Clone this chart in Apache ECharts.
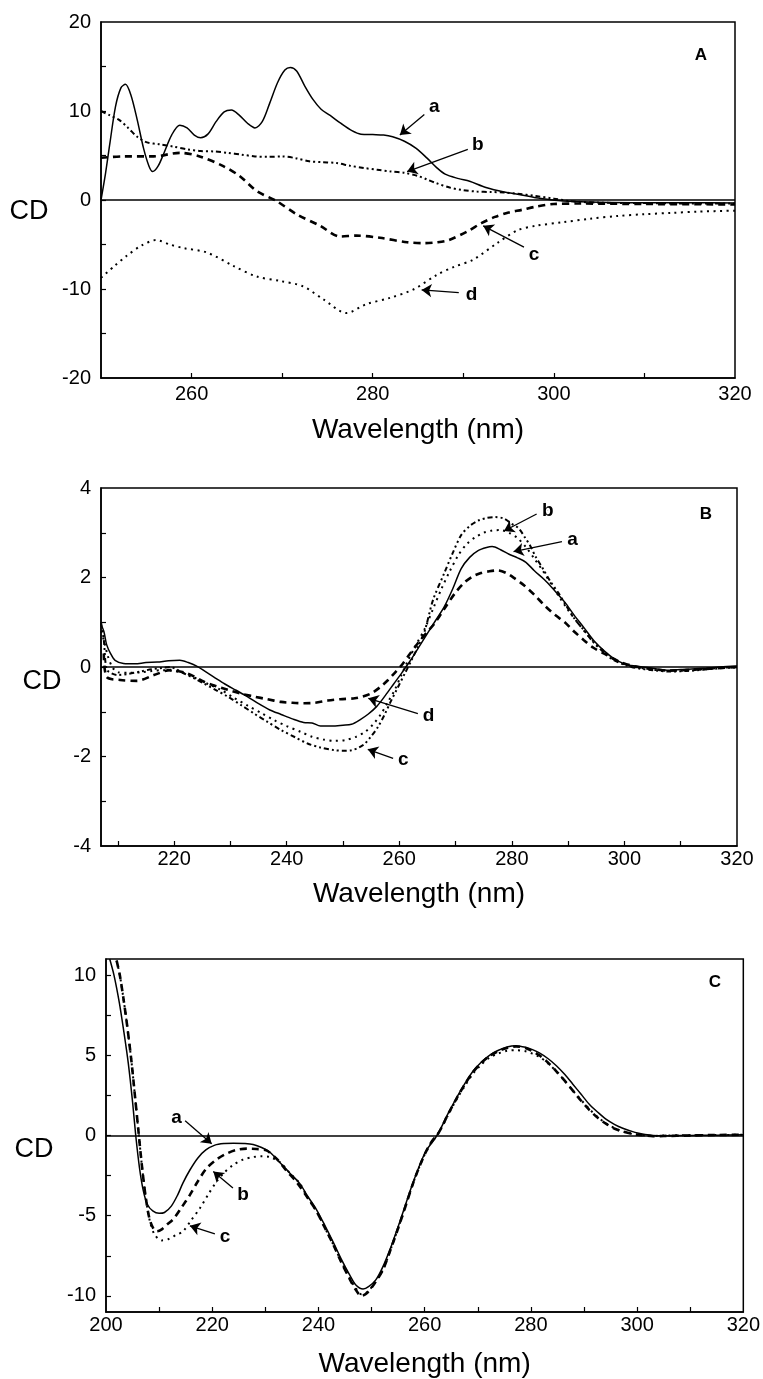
<!DOCTYPE html>
<html><head><meta charset="utf-8">
<script src="https://cdn.jsdelivr.net/npm/echarts@6/dist/echarts.min.js"></script>
<style>html,body{margin:0;padding:0;background:#fff}#c{width:763px;height:1379px}</style>
</head><body><div id="c"></div>
<script>
// ---------------- Panel A (250-320 nm) ----------------
const A_xTicks = [260,270,280,290,300,310];
const A_xLabels = [260,280,300,320];
const A_yTicks = [-15,-10,-5,0,5,10,15];
const A_yLabels = [-20,-10,0,10,20];
const A_a = [[250,0],[250.5,3],[251,6.5],[251.6,10.5],[252.2,12.6],[252.7,13.0],[253.3,11.8],[254,9],[254.7,5.8],[255.3,3.8],[255.7,3.2],[256.3,3.8],[257,5.4],[257.8,7.3],[258.7,8.4],[259.5,8.1],[260.3,7.3],[261,7.0],[261.8,7.4],[262.7,8.8],[263.6,9.9],[264.4,10.1],[265.2,9.6],[266.2,8.6],[267,8.1],[267.8,8.8],[268.6,10.8],[269.5,13.2],[270.3,14.6],[270.9,14.9],[271.6,14.5],[272.5,12.8],[273.4,11.3],[274.3,10.2],[275.3,9.5],[276.5,8.6],[277.7,7.8],[278.7,7.4],[280,7.35],[281.2,7.3],[282.2,7.1],[283.5,6.6],[284.8,5.8],[286,4.7],[287,3.7],[288,2.9],[289.5,2.4],[290.7,2.1],[292.5,1.4],[294.5,0.9],[296.3,0.6],[298,0.25],[299.5,0.05],[301,-0.1],[305,-0.25],[310,-0.3],[315,-0.3],[320,-0.35]];
const A_b = [[250,10.0],[251,9.5],[252,9.0],[253,8.1],[254,7.1],[255,6.5],[256.5,6.25],[258,6.0],[259.5,5.7],[261,5.5],[262.5,5.45],[264,5.3],[265.5,5.1],[267,4.9],[268.5,4.85],[270,4.9],[271.5,4.7],[273,4.35],[274.5,4.25],[276,4.15],[277.5,3.85],[279,3.6],[280.5,3.4],[282,3.2],[283.5,3.05],[285,2.7],[286,2.3],[287,1.9],[288.5,1.4],[290,1.1],[291.5,0.95],[293,0.9],[294.5,0.85],[296,0.7],[298,0.45],[300,0.15],[302,-0.15],[305,-0.3],[310,-0.35],[315,-0.4],[320,-0.4]];
const A_c = [[250,4.75],[252.5,4.9],[255.8,4.9],[258.7,5.3],[260.9,4.9],[263.5,3.8],[265.3,2.7],[267.2,1.0],[269.4,-0.13],[271.6,-1.6],[274.2,-2.9],[276.4,-4.1],[278.2,-4.0],[280.8,-4.25],[283.8,-4.75],[285.7,-4.85],[287.1,-4.75],[288.4,-4.5],[290.5,-3.5],[292,-2.6],[293.5,-1.9],[295,-1.4],[296.5,-1.1],[298,-0.75],[300,-0.45],[303,-0.4],[310,-0.45],[320,-0.5]];
const A_d = [[250,-8.75],[251.5,-7.4],[252.8,-6.3],[254.5,-5.1],[256.1,-4.5],[257.6,-5.0],[259.1,-5.4],[261.7,-5.9],[264.6,-7.4],[267.2,-8.6],[269.8,-9.1],[272.3,-9.7],[274.6,-11.2],[277.1,-12.7],[279.3,-11.7],[281.9,-11.0],[284.5,-10.05],[287.1,-8.4],[289,-7.5],[291.1,-6.7],[293.8,-4.8],[296,-3.4],[298,-2.9],[301,-2.5],[304,-2.1],[307,-1.8],[310,-1.6],[313,-1.45],[316,-1.3],[320,-1.2]];
const A_notes = [{name:'a', value:[286.8,10.5]},{name:'b', value:[291.6,6.2]},{name:'c', value:[297.8,-6.1]},{name:'d', value:[290.9,-10.6]}];
const A_arrows = [[[285.7,9.6],[283.0,7.3]],[[290.5,5.7],[283.8,3.2]],[[296.7,-5.3],[292.2,-2.9]],[[289.5,-10.4],[285.4,-10.1]]];

// ---------------- Panel B (207-320 nm) ----------------
const B_xTicks = [210,220,230,240,250,260,270,280,290,300,310];
const B_xLabels = [220,240,260,280,300,320];
const B_yTicks = [-3,-2,-1,0,1,2,3];
const B_yLabels = [-4,-2,0,2,4];
const B_a = [[207,0.95],[207.5,0.8],[208,0.5],[208.7,0.3],[209.5,0.15],[211,0.08],[213,0.07],[215,0.1],[217,0.11],[219,0.14],[221,0.15],[222.5,0.1],[224,0.02],[225.5,-0.1],[227,-0.22],[229,-0.38],[231,-0.52],[233,-0.66],[235,-0.82],[237,-0.96],[239,-1.06],[241,-1.16],[243,-1.24],[244.5,-1.25],[246,-1.32],[248,-1.32],[250,-1.3],[251.5,-1.28],[253,-1.18],[254.5,-1.05],[256,-0.88],[257.5,-0.64],[259,-0.38],[260.5,-0.12],[262,0.15],[263.5,0.45],[265,0.75],[266.5,1.05],[268,1.35],[269.5,1.75],[271,2.2],[272.5,2.45],[274,2.6],[275.5,2.67],[276.5,2.69],[278,2.62],[279.5,2.52],[281,2.44],[282.5,2.34],[284,2.15],[285.8,1.95],[287.5,1.72],[289.4,1.45],[291,1.17],[292.8,0.88],[294.5,0.6],[296.4,0.36],[298,0.2],[300,0.07],[302,0.02],[305,-0.03],[308,-0.07],[311,-0.05],[314,-0.03],[317,0.0],[320,0.02]];
const B_b = [[207,0.8],[207.5,0.6],[208.2,0.25],[209,0.0],[210,-0.12],[212,-0.13],[214,-0.12],[216,-0.09],[218,-0.07],[220,-0.09],[222,-0.15],[224,-0.26],[226,-0.38],[228.3,-0.51],[230.5,-0.68],[233,-0.86],[235.5,-1.03],[237.8,-1.19],[240,-1.32],[242.5,-1.45],[244.5,-1.56],[246.5,-1.62],[248.5,-1.65],[250.5,-1.63],[252.3,-1.56],[253.9,-1.45],[255.5,-1.26],[256.8,-1.04],[258,-0.78],[259.2,-0.51],[260.4,-0.17],[261.6,0.16],[263,0.5],[264.5,0.85],[266,1.3],[267.5,1.75],[269,2.15],[270.5,2.5],[272,2.75],[273.5,2.9],[275,3.0],[276.5,3.05],[278,3.06],[279.5,3.0],[281,2.88],[282.5,2.68],[284,2.42],[285.5,2.15],[287,1.85],[288.5,1.55],[290,1.27],[291.5,1.02],[293,0.78],[294.5,0.57],[296.4,0.35],[298,0.18],[300,0.06],[302,0.0],[305,-0.06],[308,-0.09],[311,-0.08],[314,-0.05],[317,-0.02],[320,0.0]];
const B_c = [[207,1.0],[207.5,0.6],[208,-0.05],[209,-0.15],[210,-0.18],[212,-0.15],[214,-0.1],[216,-0.05],[218,-0.02],[219.3,0.0],[220.5,-0.06],[221.7,-0.14],[223.5,-0.25],[225.3,-0.37],[227.5,-0.52],[229.5,-0.66],[232,-0.86],[234.2,-1.04],[236.5,-1.22],[239,-1.41],[241.5,-1.57],[243.7,-1.71],[246,-1.8],[248.5,-1.86],[250,-1.87],[251.5,-1.86],[252.8,-1.8],[253.9,-1.71],[255,-1.55],[256.2,-1.34],[257.4,-1.06],[258.6,-0.74],[259.8,-0.44],[261,-0.14],[262.2,0.16],[263.3,0.45],[264.5,0.8],[266,1.5],[268,2.1],[269.5,2.55],[271,2.95],[272.5,3.15],[274,3.27],[275.5,3.33],[277,3.35],[278.5,3.32],[280,3.2],[281.2,3.1],[282.3,2.9],[283.3,2.7],[284.2,2.47],[285.5,2.2],[286.8,1.92],[288.3,1.65],[289.5,1.4],[291,1.1],[292.8,0.82],[294.5,0.55],[296.4,0.32],[298,0.16],[300,0.05],[302,-0.02],[305,-0.07],[308,-0.1],[311,-0.09],[314,-0.06],[317,-0.03],[320,-0.01]];
const B_d = [[207.5,0.3],[208,-0.22],[210.4,-0.29],[213.4,-0.31],[216.4,-0.18],[219.3,-0.07],[222.3,-0.14],[225.3,-0.33],[227.5,-0.43],[229.5,-0.51],[232,-0.6],[234.2,-0.66],[236.5,-0.72],[239,-0.78],[241,-0.8],[243.1,-0.81],[245,-0.8],[247.3,-0.75],[249.5,-0.72],[252.1,-0.7],[253.5,-0.66],[255,-0.59],[256.5,-0.46],[258,-0.29],[259.2,-0.13],[260.4,0.04],[261.8,0.28],[263.3,0.53],[264.8,0.76],[266.3,0.98],[268,1.3],[269.9,1.65],[271.5,1.88],[273,2.02],[274.5,2.1],[276,2.14],[277.5,2.16],[279,2.1],[280.5,1.98],[282.2,1.82],[284.1,1.6],[286,1.35],[287.7,1.16],[289.4,1.0],[291,0.8],[292.8,0.6],[294.5,0.43],[296.4,0.3],[298.9,0.13],[301,0.04],[304,-0.03],[308,-0.08],[312,-0.06],[316,-0.03],[320,0.0]];
const B_notes = [{name:'b', value:[286.4,3.5]},{name:'a', value:[290.8,2.84]},{name:'d', value:[265.2,-1.08]},{name:'c', value:[260.7,-2.08]}];
const B_arrows = [[[284.4,3.42],[278.6,3.04]],[[288.9,2.8],[280.3,2.58]],[[263.3,-1.04],[254.5,-0.7]],[[258.9,-2.04],[254.4,-1.84]]];

// ---------------- Panel C (200-320 nm) ----------------
const C_xTicks = [210,220,230,240,250,260,270,280,290,300,310];
const C_xLabels = [200,220,240,260,280,300,320];
const C_yTicks = [-10,-7.5,-5,-2.5,0,2.5,5,7.5,10];
const C_yLabels = [-10,-5,0,5,10];
const C_a = [[200.7,11.0],[201.5,10.0],[202.5,8.3],[203.3,6.6],[204.2,4.5],[205,2.1],[205.6,0.0],[206.3,-2.0],[207,-3.4],[207.8,-4.3],[208.8,-4.7],[210,-4.85],[211,-4.8],[212.3,-4.4],[213.5,-3.7],[214.5,-2.95],[215.8,-2.15],[217.3,-1.4],[218.8,-0.9],[220.5,-0.6],[222.3,-0.5],[224,-0.48],[226,-0.5],[227.7,-0.56],[229.3,-0.75],[230.8,-1.03],[232.5,-1.6],[234.5,-2.3],[236.5,-3.0],[238,-3.8],[239.6,-4.6],[241.2,-5.6],[242.8,-6.66],[244.3,-7.7],[245.9,-8.7],[247,-9.3],[248.4,-9.57],[249.5,-9.4],[250.8,-9.0],[252.1,-8.2],[253.7,-6.9],[255.3,-5.4],[256.5,-4.2],[257.8,-2.95],[259,-1.9],[260.3,-0.93],[261.5,-0.4],[262.3,0.0],[263.2,0.55],[264.3,1.3],[266,2.35],[267.5,3.2],[269.1,4.0],[270.6,4.55],[272.2,5.0],[273.8,5.3],[275.5,5.52],[277.2,5.6],[279,5.5],[280.3,5.35],[281.6,5.15],[283.2,4.8],[284.8,4.35],[286.4,3.8],[287.9,3.2],[289.5,2.55],[291,1.95],[292.6,1.45],[294.2,1.0],[295.8,0.68],[297.3,0.45],[298.8,0.28],[300.1,0.15],[301.5,0.06],[303,0.0],[305,-0.02],[310,0.0],[315,0.02],[320,0.05]];
const C_b = [[202,10.9],[202.6,10.0],[203.3,8.5],[204,6.8],[204.8,4.6],[205.5,2.3],[206.1,0.3],[206.8,-2.0],[207.5,-3.9],[208.2,-5.2],[209,-5.85],[209.6,-5.97],[210.5,-5.85],[211.5,-5.55],[212.7,-5.2],[214.2,-4.5],[215.8,-3.7],[217.3,-2.85],[218.9,-2.06],[220.8,-1.5],[222.7,-1.13],[224.6,-0.9],[226.5,-0.82],[228.3,-0.84],[230.2,-0.93],[232.1,-1.44],[234,-2.2],[236,-2.95],[238,-3.9],[239.6,-4.7],[241.2,-5.75],[242.8,-6.8],[244.3,-7.9],[245.9,-8.95],[247,-9.6],[248.1,-10.0],[249.2,-9.8],[250.6,-9.2],[252.1,-8.4],[253.7,-7.0],[255.3,-5.5],[256.5,-4.3],[257.8,-3.0],[259,-1.95],[260.3,-0.98],[261.5,-0.3],[262.3,0.0],[263.2,0.5],[264.3,1.25],[266,2.3],[267.5,3.15],[269.1,3.95],[270.6,4.5],[272.2,4.95],[273.8,5.25],[275.5,5.45],[277.2,5.55],[279,5.45],[280.3,5.25],[281.6,5.0],[283.2,4.55],[284.8,4.0],[286.4,3.4],[287.9,2.8],[289.5,2.15],[291,1.6],[292.6,1.1],[294.2,0.72],[295.8,0.42],[297.3,0.25],[298.8,0.12],[300.1,0.05],[301.5,0.0],[303,-0.05],[305,-0.03],[310,0.0],[315,0.03],[320,0.05]];
const C_c = [[202,10.9],[202.6,10.0],[203.3,8.5],[204,6.8],[204.8,4.6],[205.5,2.3],[206.1,0.3],[206.8,-2.0],[207.5,-3.9],[208.3,-5.4],[209.2,-6.2],[210.5,-6.54],[211.8,-6.45],[213.2,-6.2],[214.5,-5.97],[216,-5.3],[217.7,-4.52],[219.2,-3.7],[220.8,-2.88],[222.3,-2.3],[223.9,-1.85],[225.8,-1.5],[227.7,-1.34],[229.3,-1.3],[230.8,-1.34],[232.7,-1.65],[234.5,-2.3],[236.5,-3.0],[238,-3.9],[239.6,-4.7],[241.2,-5.75],[242.8,-6.8],[244.3,-7.85],[245.9,-8.9],[247,-9.5],[248.1,-9.9],[249.2,-9.75],[250.6,-9.2],[252.1,-8.4],[253.7,-7.0],[255.3,-5.5],[256.5,-4.3],[257.8,-3.0],[259,-1.95],[260.3,-0.98],[261.5,-0.3],[262.3,0.0],[263.2,0.5],[264.3,1.2],[266,2.25],[267.5,3.05],[269.1,3.85],[270.6,4.4],[272.2,4.85],[273.8,5.1],[275.5,5.28],[277.2,5.32],[279,5.25],[280.3,5.1],[281.6,4.9],[283.2,4.5],[284.8,4.0],[286.4,3.4],[287.9,2.8],[289.5,2.2],[291,1.65],[292.6,1.15],[294.2,0.75],[295.8,0.45],[297.3,0.25],[298.8,0.12],[300.1,0.05],[301.5,0.0],[303,-0.03],[305,0.0],[310,0.02],[315,0.03],[320,0.05]];
const C_notes = [{name:'a', value:[213.3,1.12]},{name:'b', value:[225.8,-3.68]},{name:'c', value:[222.4,-6.34]}];
const C_arrows = [[[214.9,0.92],[219.9,-0.51]],[[223.9,-3.27],[220.2,-2.25]],[[220.5,-6.13],[215.8,-5.63]]];

const FONT = "'Liberation Sans', Arial, Helvetica, sans-serif";
const SOLID = {width:1.5, type:'solid'};
const DASHED = {width:2.6, type:[7,5]};
const DOTTED = {width:2, type:[2,4.5]};
const DASHDOT = {width:2, type:[5,3,2,3,2,3]};

function makeX(gi, min, max, ticks, labels, margin, gap) {
  return {gridIndex:gi, type:'value', min, max,
    axisLine:{show:true, onZero:false, lineStyle:{color:'#000', width:1.5}},
    axisTick:{show:true, inside:true, length:5, customValues:ticks, lineStyle:{color:'#000', width:1.2}},
    axisLabel:{show:true, customValues:labels, margin, color:'#000', fontSize:20, fontFamily:FONT},
    splitLine:{show:false},
    name:'Wavelength (nm)', nameLocation:'middle', nameGap:gap,
    nameTextStyle:{color:'#000', fontSize:28, fontFamily:FONT}};
}
function makeY(gi, min, max, ticks, labels) {
  return {gridIndex:gi, type:'value', min, max,
    axisLine:{show:true, onZero:false, lineStyle:{color:'#000', width:1.5}},
    axisTick:{show:true, inside:true, length:5, customValues:ticks, lineStyle:{color:'#000', width:1.2}},
    axisLabel:{show:true, customValues:labels, margin:10, color:'#000', fontSize:20, fontFamily:FONT},
    splitLine:{show:false}};
}
function curve(gi, data, style, z) {
  return {type:'line', xAxisIndex:gi, yAxisIndex:gi, data, symbol:'none', showSymbol:false,
    smooth:0.3, silent:true, z:z||2, lineStyle:Object.assign({color:'#000'}, style)};
}
function zeroLine(gi) {
  return {type:'line', xAxisIndex:gi, yAxisIndex:gi, data:[], silent:true, z:1,
    markLine:{silent:true, symbol:'none', label:{show:false}, animation:false,
      lineStyle:{color:'#000', width:1.6, type:'solid'}, data:[{yAxis:0}]}};
}
function noteLabels(gi, labels) {
  return {type:'scatter', xAxisIndex:gi, yAxisIndex:gi, data:labels, symbolSize:0.5, silent:true, z:5,
    itemStyle:{color:'#000', opacity:1},
    label:{show:true, position:'inside', formatter:'{b}', color:'#000', opacity:1, fontSize:19, fontWeight:'bold',
      fontFamily:FONT, textBorderWidth:0}};
}
function noteArrows(gi, arrows) {
  return {type:'line', xAxisIndex:gi, yAxisIndex:gi, data:[], silent:true, z:5,
    itemStyle:{color:'#000'}, lineStyle:{color:'#000'},
    markLine:{silent:true, symbol:['none','arrow'], symbolSize:10, label:{show:false}, animation:false,
      itemStyle:{color:'#000'},
      lineStyle:{color:'#000', width:1.3, type:'solid'},
      data: arrows.map(p => [
        {coord:p[0], symbol:'none', itemStyle:{color:'#000'}},
        {coord:p[1], symbol:'arrow', symbolSize:10, itemStyle:{color:'#000'}}
      ])}};
}

const chart = echarts.init(document.getElementById('c'), null, {renderer:'canvas'});
const gridStyle = {show:true, borderColor:'#000', borderWidth:1.5, backgroundColor:'transparent', containLabel:false};
const textStyle = (t, f) => ({text:t, fill:'#000', font:f, textAlign:'center', textVerticalAlign:'middle', align:'center', verticalAlign:'middle'});
chart.setOption({
  animation:false,
  backgroundColor:'#fff',
  grid:[
    Object.assign({left:101, top:22, width:634, height:356}, gridStyle),
    Object.assign({left:101, top:488, width:636, height:358}, gridStyle),
    Object.assign({left:106, top:959, width:638, height:358}, gridStyle)
  ],
  xAxis:[
    makeX(0, 250, 320, A_xTicks, A_xLabels, 6, 38),
    makeX(1, 207, 320, B_xTicks, B_xLabels, 3, 34),
    makeX(2, 200, 320, C_xTicks, C_xLabels, 3, 38)
  ],
  yAxis:[
    makeY(0, -20, 20, A_yTicks, A_yLabels),
    makeY(1, -4, 4, B_yTicks, B_yLabels),
    makeY(2, -11, 11, C_yTicks, C_yLabels)
  ],
  series:[
    zeroLine(0), zeroLine(1), zeroLine(2),
    curve(0, A_a, SOLID), curve(0, A_b, DASHDOT), curve(0, A_c, DASHED), curve(0, A_d, DOTTED),
    curve(1, B_a, SOLID), curve(1, B_b, DOTTED), curve(1, B_c, DASHDOT), curve(1, B_d, DASHED),
    curve(2, C_a, SOLID), curve(2, C_b, DASHED), curve(2, C_c, DOTTED),
    noteLabels(0, A_notes), noteLabels(1, B_notes), noteLabels(2, C_notes),
    noteArrows(0, A_arrows), noteArrows(1, B_arrows), noteArrows(2, C_arrows)
  ],
  graphic:[
    {type:'text', x:29, y:212, style:textStyle('CD', '27px ' + FONT)},
    {type:'text', x:42, y:682, style:textStyle('CD', '27px ' + FONT)},
    {type:'text', x:34, y:1150, style:textStyle('CD', '27px ' + FONT)},
    {type:'text', x:701, y:55, style:textStyle('A', 'bold 17px ' + FONT)},
    {type:'text', x:706, y:514, style:textStyle('B', 'bold 17px ' + FONT)},
    {type:'text', x:715, y:982, style:textStyle('C', 'bold 17px ' + FONT)}
  ]
});
</script></body></html>
